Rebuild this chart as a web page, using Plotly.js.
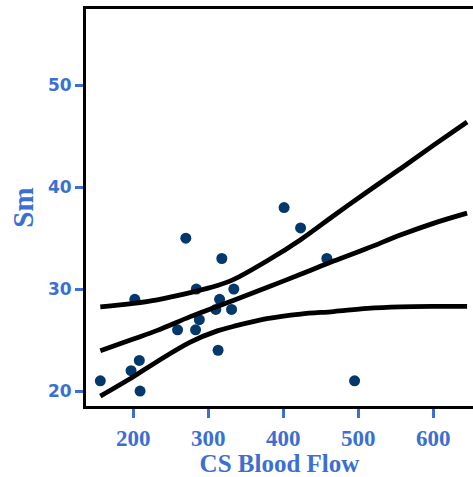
<!DOCTYPE html>
<html>
<head>
<meta charset="utf-8">
<script src="https://cdn.plot.ly/plotly-3.0.1.min.js"></script>
<style>html,body{margin:0;padding:0;background:#fff;}#chart{width:473px;height:477px;}</style>
</head>
<body>
<div id="chart"></div>
<script>
// Observed data points
const flow = [156, 197, 208, 209, 202, 270, 259, 283, 288, 284, 318, 315, 310, 331, 334, 313, 401, 423, 458, 495];
const sm   = [21, 22, 23, 20, 29, 35, 26, 26, 27, 30, 33, 29, 28, 28, 30, 24, 38, 36, 33, 21];

// Fit line and confidence band
const fitX   = [156, 200, 232, 276, 312, 334, 378, 423, 467, 512, 556, 600, 645];
const fitMid = [23.95, 25.1, 25.95, 27.3, 28.3, 28.9, 30.15, 31.45, 32.75, 34.0, 35.3, 36.45, 37.45];
const fitUp  = [28.25, 28.6, 28.95, 29.65, 30.35, 30.95, 32.75, 34.85, 37.2, 39.55, 41.8, 44.1, 46.4];
const fitLo  = [19.5, 21.4, 22.9, 24.8, 25.9, 26.35, 27.1, 27.55, 27.8, 28.1, 28.25, 28.3, 28.3];

const xTicks = [200, 300, 400, 500, 600];
const yTicks = [20, 30, 40, 50];

const blue = '#3b6fd4';
const serif = 'Liberation Serif, Times New Roman, serif';
const lineStyle = {color: '#000', width: 4.8, shape: 'spline'};

const traces = [
  {x: flow, y: sm, mode: 'markers', type: 'scatter',
   marker: {color: '#03386c', size: 11}},
  {x: fitX, y: fitUp, mode: 'lines', type: 'scatter', line: lineStyle},
  {x: fitX, y: fitMid, mode: 'lines', type: 'scatter', line: lineStyle},
  {x: fitX, y: fitLo, mode: 'lines', type: 'scatter', line: lineStyle}
];

const layout = {
  width: 473, height: 477,
  margin: {l: 86, r: 0, t: 9, b: 71},
  paper_bgcolor: '#fff', plot_bgcolor: '#fff',
  showlegend: false,
  xaxis: {
    range: [136.9, 652.9],
    tickmode: 'array',
    tickvals: xTicks, ticktext: xTicks.map(v => '<b>' + v + '</b>'),
    showgrid: false, zeroline: false,
    showline: true, linecolor: '#000', linewidth: 3, mirror: true,
    ticks: 'outside', ticklen: 9, tickwidth: 3, tickcolor: blue,
    tickfont: {family: serif, size: 23, color: blue},
    title: {text: '<b>CS Blood Flow</b>', standoff: 6,
            font: {family: serif, size: 25, color: blue}}
  },
  yaxis: {
    range: [18.53, 57.48],
    tickmode: 'array',
    tickvals: yTicks, ticktext: yTicks.map(v => '<b>' + v + '</b>'),
    showgrid: false, zeroline: false,
    showline: true, linecolor: '#000', linewidth: 3, mirror: false,
    ticks: 'outside', ticklen: 8, tickwidth: 3, tickcolor: blue,
    tickfont: {family: 'DejaVu Sans', size: 17, color: blue},
    title: {text: '<b>Sm</b>', standoff: 6,
            font: {family: serif, size: 29, color: blue}}
  }
};

Plotly.newPlot('chart', traces, layout, {displayModeBar: false, staticPlot: true});
</script>
</body>
</html>
